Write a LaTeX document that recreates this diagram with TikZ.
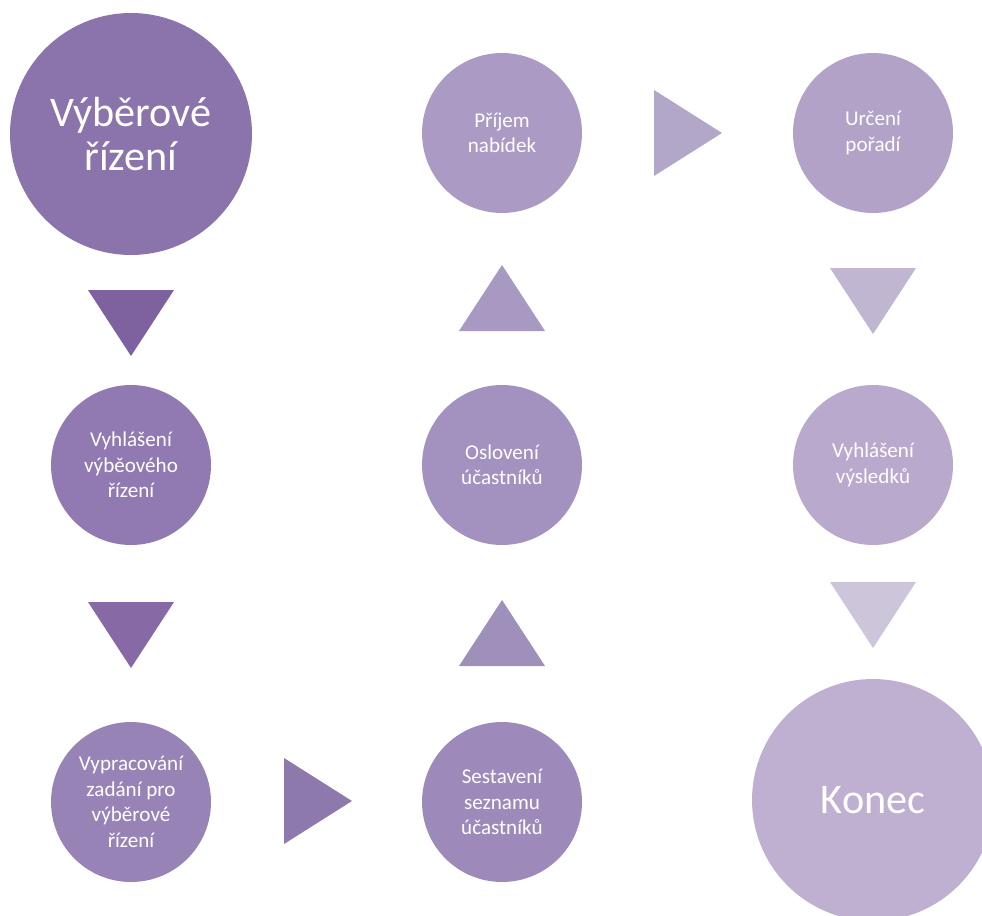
\documentclass[tikz,border=0pt]{standalone}
\usepackage{fontspec}
\setmainfont{Carlito}

\definecolor{kA}{HTML}{8B73AB}
\definecolor{kB}{HTML}{917AB1}
\definecolor{kC}{HTML}{9883B6}
\definecolor{kD}{HTML}{9D8ABA}
\definecolor{kE}{HTML}{A391C0}
\definecolor{kF}{HTML}{AB9AC4}
\definecolor{kG}{HTML}{B2A2C8}
\definecolor{kH}{HTML}{B9A9CD}
\definecolor{kI}{HTML}{BFB0D1}
\definecolor{s1}{HTML}{7E62A0}
\definecolor{s2}{HTML}{8669A5}
\definecolor{s3}{HTML}{8E79AC}
\definecolor{s4}{HTML}{9E8FBB}
\definecolor{s5}{HTML}{A899C3}
\definecolor{s6}{HTML}{B3A7C9}
\definecolor{s7}{HTML}{C0B6D1}
\definecolor{s8}{HTML}{CDC5D9}

\tikzset{
  krok/.style={circle, minimum size=3.2cm, inner sep=0pt, text=white, align=center,
    font=\fontsize{12}{14.5}\selectfont},
  velky/.style={krok, minimum size=4.84cm, font=\fontsize{24}{25}\selectfont},
  dolu/.pic={\fill (-43,-33) -- (43,-33) -- (0,33) -- cycle;},
  nahoru/.pic={\fill (-43,33) -- (43,33) -- (0,-33) -- cycle;},
  vpravo/.pic={\fill (-34,-43) -- (-34,43) -- (34,0) -- cycle;}
}

\begin{document}
\begin{tikzpicture}[x=0.02cm, y=-0.02cm]
        \useasboundingbox (0,0) rectangle (982,915);
        \clip (0,0) rectangle (982,915);

        % levý sloupec
        \node[velky, fill=kA] (zacatek) at (131,134) {Výběrové\\řízení};
        \node[krok, fill=kB] (vyhlaseni) at (131,465) {Vyhlášení\\výběového\\řízení};
        \node[krok, fill=kC] (zadani) at (131,802) {Vypracování\\zadání pro\\výběrové\\řízení};

        % prostřední sloupec
        \node[krok, fill=kD] (seznam) at (502,802) {Sestavení\\seznamu\\účastníků};
        \node[krok, fill=kE] (osloveni) at (502,465) {Oslovení\\účastníků};
        \node[krok, fill=kF] (prijem) at (502,133) {Příjem\\nabídek};

        % pravý sloupec
        \node[krok, fill=kG] (poradi) at (873,133) {Určení\\pořadí};
        \node[krok, fill=kH] (vysledky) at (873,465) {Vyhlášení\\výsledků};
        \node[velky, fill=kI] (konec) at (873,800) {Konec};

        % šipky
        \pic[fill=s1] at (131,323) {dolu};
        \pic[fill=s2] at (131,635) {dolu};
        \pic[fill=s3] at (318,801) {vpravo};
        \pic[fill=s4] at (502,633) {nahoru};
        \pic[fill=s5] at (502,298) {nahoru};
        \pic[fill=s6] at (688,133) {vpravo};
        \pic[fill=s7] at (873,301) {dolu};
        \pic[fill=s8] at (873,615) {dolu};
    \end{tikzpicture}
\end{document}
